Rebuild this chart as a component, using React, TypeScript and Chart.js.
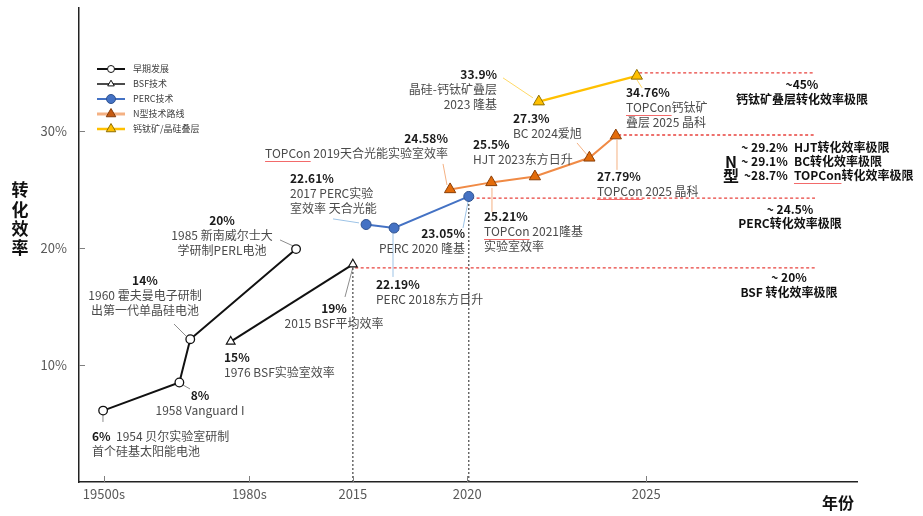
import { useEffect, useRef } from 'react';
import { Chart, registerables } from 'chart.js';

Chart.register(...registerables);

const FONT = '"Noto Sans CJK SC", "Noto Sans", sans-serif';

// X axis is a schematic (non-linear) timeline measured in position units 0–100
const xTickPositions = [3.2, 21.9, 35.2, 49.9, 72.9];
const xTickLabels = ['19500s', '1980s', '2015', '2020', '2025'];
const yTickValues = [10, 20, 30];
const yTickLabels = ['10%', '20%', '30%'];

const seriesNames = ['早期发展', 'BSF技术', 'PERC技术', 'N型技术路线', '钙钛矿/晶硅叠层'];

const earlyX = [3.1, 12.9, 14.3, 27.9];
const earlyY = [6.1, 8.5, 12.2, 19.9];
const bsfX = [19.5, 35.2];
const bsfY = [12.0, 18.6];
const percX = [36.9, 40.5, 50.1];
const percY = [22.0, 21.7, 24.4];
const ntypeX = [47.7, 53.0, 58.6, 65.6, 69.0];
const ntypeY = [25.0, 25.6, 26.1, 27.7, 29.6];
const tandemX = [59.1, 71.7];
const tandemY = [32.5, 34.7];

// efficiency-limit reference lines (red dashed)
const limitStartX = [72.0, 69.3, 50.4, 35.5];
const limitY = [34.95, 29.65, 24.25, 18.3];
const limitEndX = 94.6;
// vertical dotted guides at 2015 / 2020
const guideX = [35.2, 50.1];
const guideTopY = [18.6, 24.4];

type Align = 'left' | 'center' | 'right';
interface Note {
  value: string;
  text: string[];
  x: number;
  y: number;
  align: Align;
  inline?: boolean;
  leader?: [number, number, number, number];
  color?: string;
}

const GRAY_LEAD = '#8c8c8c';
const BLUE_LEAD = '#9DC3E6';
const ORANGE_LEAD = '#F4B183';
const YELLOW_LEAD = '#FFD966';

const notes: Note[] = [
  { value: '6%', text: ['1954 贝尔实验室研制', '首个硅基太阳能电池'], x: 1.67, y: 3.93, align: 'left', inline: true, leader: [3.08, 5.9, 3.08, 5.13], color: GRAY_LEAD },
  { value: '8%', text: ['1958 Vanguard I'], x: 15.55, y: 7.4, align: 'center', leader: [13.37, 8.29, 14.27, 7.95], color: GRAY_LEAD },
  { value: '14%', text: ['1960 霍夫曼电子研制', '出第一代单晶硅电池'], x: 8.48, y: 17.18, align: 'center', leader: [12.21, 13.5, 13.75, 12.48], color: GRAY_LEAD },
  { value: '20%', text: ['1985 新南威尔士大', '学研制PERL电池'], x: 18.38, y: 22.31, align: 'center', leader: [25.84, 20.68, 27.51, 20.17], color: GRAY_LEAD },
  { value: '15%', text: ['1976 BSF实验室效率'], x: 18.64, y: 10.68, align: 'left' },
  { value: '19%', text: ['2015 BSF平均效率'], x: 32.78, y: 14.79, align: 'center', leader: [34.19, 15.81, 35.22, 18.38], color: GRAY_LEAD },
  { value: '22.61%', text: ['2017 PERC实验', '室效率 天合光能'], x: 27.12, y: 25.98, align: 'left', leader: [32.65, 22.48, 35.99, 22.14], color: BLUE_LEAD },
  { value: '22.19%', text: ['PERC 2018东方日升'], x: 38.17, y: 16.84, align: 'left', leader: [40.36, 21.28, 40.36, 17.52], color: BLUE_LEAD },
  { value: '23.05%', text: ['PERC 2020 隆基'], x: 49.61, y: 21.28, align: 'right', leader: [49.36, 21.71, 50.0, 23.93], color: BLUE_LEAD },
  { value: '24.58%', text: ['TOPCon 2019天合光能实验室效率'], x: 47.43, y: 29.32, align: 'right', leader: [46.79, 27.18, 47.3, 25.38], color: ORANGE_LEAD },
  { value: '25.5%', text: ['HJT 2023东方日升'], x: 50.64, y: 28.8, align: 'left' },
  { value: '25.21%', text: ['TOPCon 2021隆基', '实验室效率'], x: 52.06, y: 22.65, align: 'left', leader: [53.08, 25.13, 53.08, 23.08], color: ORANGE_LEAD },
  { value: '27.3%', text: ['BC 2024爱旭'], x: 55.78, y: 31.03, align: 'left', leader: [64.01, 28.97, 65.3, 27.95], color: ORANGE_LEAD },
  { value: '27.79%', text: ['TOPCon 2025 晶科'], x: 66.58, y: 26.07, align: 'left', leader: [69.15, 29.23, 69.15, 26.67], color: ORANGE_LEAD },
  { value: '33.9%', text: ['晶硅-钙钛矿叠层', '2023 隆基'], x: 53.73, y: 34.79, align: 'right', leader: [54.5, 34.53, 58.35, 32.82], color: YELLOW_LEAD },
  { value: '34.76%', text: ['TOPCon钙钛矿', '叠层 2025 晶科'], x: 70.31, y: 33.25, align: 'left', leader: [71.72, 34.36, 72.37, 33.68], color: YELLOW_LEAD },
];

interface LimitNote { lines: string[]; x: number; y: number; align: Align; lh: number; size: number }
const limitNotes: LimitNote[] = [
  { lines: ['~45%', '钙钛矿叠层转化效率极限'], x: 92.93, y: 33.93, align: 'center', lh: 15, size: 12 },
  { lines: ['~ 29.2%', '~ 29.1%', '~28.7%'], x: 91.1, y: 28.55, align: 'right', lh: 14, size: 12 },
  { lines: ['HJT转化效率极限', 'BC转化效率极限', 'TOPCon转化效率极限'], x: 91.9, y: 28.55, align: 'left', lh: 14, size: 12 },
  { lines: ['N', '型'], x: 83.8, y: 27.35, align: 'center', lh: 14, size: 16 },
  { lines: ['~ 24.5%', 'PERC转化效率极限'], x: 91.39, y: 23.25, align: 'center', lh: 14, size: 12 },
  { lines: ['~ 20%', 'BSF 转化效率极限'], x: 91.26, y: 17.44, align: 'center', lh: 15, size: 12 },
];

const pts = (xs: number[], ys: number[]) => xs.map((x, i) => ({ x, y: ys[i] }));

const mainSeries: any[] = [
  { label: seriesNames[0], data: pts(earlyX, earlyY), borderColor: '#111', borderWidth: 2, pointStyle: 'circle', pointRadius: 4.3, pointBackgroundColor: '#fff', pointBorderColor: '#111', pointBorderWidth: 1.3 },
  { label: seriesNames[1], data: pts(bsfX, bsfY), borderColor: '#111', borderWidth: 2, pointStyle: 'triangle', pointRadius: 5, pointBackgroundColor: '#fff', pointBorderColor: '#111', pointBorderWidth: 1.2 },
  { label: seriesNames[2], data: pts(percX, percY), borderColor: '#4472C4', borderWidth: 2, pointStyle: 'circle', pointRadius: 5, pointBackgroundColor: '#4472C4', pointBorderColor: '#2F528F', pointBorderWidth: 1 },
  { label: seriesNames[3], data: pts(ntypeX, ntypeY), borderColor: '#F08A45', borderWidth: 2, pointStyle: 'triangle', pointRadius: 6.5, pointBackgroundColor: '#E46C0A', pointBorderColor: '#8A3F08', pointBorderWidth: 1 },
  { label: seriesNames[4], data: pts(tandemX, tandemY), borderColor: '#FFC000', borderWidth: 2.2, pointStyle: 'triangle', pointRadius: 6.5, pointBackgroundColor: '#FFC000', pointBorderColor: '#8F6F00', pointBorderWidth: 1 },
];

const legendStyles = [
  { line: '#111', width: 2, shape: 'circle', r: 3.5, fill: '#fff', stroke: '#111' },
  { line: '#111', width: 1.5, shape: 'triangle', r: 3.8, fill: '#fff', stroke: '#111' },
  { line: '#4472C4', width: 2, shape: 'circle', r: 4.5, fill: '#4472C4', stroke: '#2F528F' },
  { line: '#F4B183', width: 3, shape: 'triangle', r: 5.5, fill: '#C55A11', stroke: '#843C0C' },
  { line: '#FFC000', width: 2.5, shape: 'triangle', r: 5.5, fill: '#FFC000', stroke: '#8F6F00' },
];

const limitSets: any[] = limitY.map((y, i) => ({
  label: 'limit' + i,
  data: [{ x: limitStartX[i], y }, { x: limitEndX, y }],
  borderColor: '#E8413C',
  borderWidth: 1.3,
  borderDash: [3, 2.5],
  pointRadius: 0,
}));
const guideSets: any[] = guideX.map((x, i) => ({
  label: 'guide' + i,
  data: [{ x, y: 0 }, { x, y: guideTopY[i] }],
  borderColor: '#444',
  borderWidth: 1.2,
  borderDash: [2, 2],
  pointRadius: 0,
}));

function shapePath(ctx: CanvasRenderingContext2D, shape: string, x: number, y: number, r: number) {
  ctx.beginPath();
  if (shape === 'circle') {
    ctx.arc(x, y, r, 0, Math.PI * 2);
  } else {
    ctx.moveTo(x, y - r);
    ctx.lineTo(x + r * 0.866, y + r * 0.5);
    ctx.lineTo(x - r * 0.866, y + r * 0.5);
    ctx.closePath();
  }
}

interface Seg { t: string; bold: boolean; color: string }

function drawLines(ctx: CanvasRenderingContext2D, x: number, y: number, align: Align, lines: Seg[][], lh: number, size: number) {
  ctx.textBaseline = 'middle';
  ctx.textAlign = 'left';
  lines.forEach((segs, i) => {
    const ly = y + i * lh;
    let total = 0;
    const widths = segs.map((s) => {
      ctx.font = `${s.bold ? 'bold ' : ''}${size}px ${FONT}`;
      const w = ctx.measureText(s.t).width;
      total += w;
      return w;
    });
    let sx = align === 'left' ? x : align === 'center' ? x - total / 2 : x - total;
    segs.forEach((s, k) => {
      ctx.font = `${s.bold ? 'bold ' : ''}${size}px ${FONT}`;
      ctx.fillStyle = s.color;
      ctx.fillText(s.t, sx, ly);
      const idx = s.t.indexOf('TOPCon');
      if (idx >= 0) {
        const off = ctx.measureText(s.t.slice(0, idx)).width;
        const w = ctx.measureText('TOPCon').width;
        ctx.save();
        ctx.strokeStyle = 'rgba(240,80,80,0.85)';
        ctx.lineWidth = 1;
        ctx.beginPath();
        ctx.moveTo(sx + off, Math.round(ly + size * 0.62) + 0.5);
        ctx.lineTo(sx + off + w, Math.round(ly + size * 0.62) + 0.5);
        ctx.stroke();
        ctx.restore();
      }
      sx += widths[k];
    });
  });
}

const decor = {
  id: 'decor',
  beforeDatasetsDraw(chart: any) {
    const { ctx, scales } = chart;
    const X = (v: number) => scales.x.getPixelForValue(v);
    const Y = (v: number) => scales.y.getPixelForValue(v);
    ctx.save();
    ctx.lineWidth = 1;
    notes.forEach((n) => {
      if (!n.leader) return;
      ctx.strokeStyle = n.color || GRAY_LEAD;
      ctx.beginPath();
      ctx.moveTo(X(n.leader[0]), Y(n.leader[1]));
      ctx.lineTo(X(n.leader[2]), Y(n.leader[3]));
      ctx.stroke();
    });
    ctx.restore();
  },
  afterDraw(chart: any) {
    const { ctx, scales, chartArea } = chart;
    const X = (v: number) => scales.x.getPixelForValue(v);
    const Y = (v: number) => scales.y.getPixelForValue(v);
    ctx.save();
    // inner tick marks
    ctx.strokeStyle = '#7f7f7f';
    ctx.lineWidth = 1;
    yTickValues.forEach((v) => {
      const py = Math.round(Y(v)) + 0.5;
      ctx.beginPath();
      ctx.moveTo(chartArea.left, py);
      ctx.lineTo(chartArea.left + 6, py);
      ctx.stroke();
    });
    xTickPositions.forEach((v) => {
      const px = Math.round(X(v)) + 0.5;
      ctx.beginPath();
      ctx.moveTo(px, chartArea.bottom);
      ctx.lineTo(px, chartArea.bottom - 6);
      ctx.stroke();
    });

    // data annotations
    notes.forEach((n) => {
      const val: Seg = { t: n.value, bold: true, color: '#1a1a1a' };
      const txt = (t: string): Seg => ({ t, bold: false, color: '#4a4a4a' });
      let lines: Seg[][];
      if (n.inline) {
        lines = [[val, txt('  ' + n.text[0])], ...n.text.slice(1).map((t) => [txt(t)])];
      } else {
        lines = [[val], ...n.text.map((t) => [txt(t)])];
      }
      drawLines(ctx, X(n.x), Y(n.y), n.align, lines, 15, 12);
    });

    // efficiency limit texts
    limitNotes.forEach((n) => {
      const lines = n.lines.map((t) => [{ t, bold: true, color: '#111' }]);
      drawLines(ctx, X(n.x), Y(n.y), n.align, lines, n.lh, n.size);
    });

    // legend
    const lx = chartArea.left + 18;
    legendStyles.forEach((s, i) => {
      const ly = chartArea.top + 61 + i * 15;
      ctx.strokeStyle = s.line;
      ctx.lineWidth = s.width;
      ctx.beginPath();
      ctx.moveTo(lx, ly);
      ctx.lineTo(lx + 28, ly);
      ctx.stroke();
      shapePath(ctx, s.shape, lx + 14, ly, s.r);
      ctx.fillStyle = s.fill;
      ctx.fill();
      ctx.strokeStyle = s.stroke;
      ctx.lineWidth = 1;
      ctx.stroke();
      ctx.fillStyle = '#404040';
      ctx.font = `9px ${FONT}`;
      ctx.textAlign = 'left';
      ctx.textBaseline = 'middle';
      ctx.fillText(seriesNames[i], lx + 36, ly);
    });

    // axis titles
    ctx.fillStyle = '#111';
    ctx.font = `bold 17px ${FONT}`;
    ctx.textAlign = 'center';
    ctx.textBaseline = 'middle';
    ['转', '化', '效', '率'].forEach((c, i) => ctx.fillText(c, 20, chartArea.top + 182 + i * 19.3));
    ctx.font = `bold 16px ${FONT}`;
    ctx.fillText('年份', 838, chartArea.bottom + 21);
    ctx.restore();
  },
};

export default function App() {
  const ref = useRef<HTMLCanvasElement>(null);
  useEffect(() => {
    const chart = new Chart(ref.current as HTMLCanvasElement, {
      type: 'line',
      data: { datasets: [...mainSeries, ...limitSets, ...guideSets] },
      options: {
        responsive: false,
        animation: false,
        devicePixelRatio: 1,
        layout: { padding: { left: 0, right: 66, top: 8, bottom: 0 } },
        elements: { line: { tension: 0 } },
        plugins: { legend: { display: false }, tooltip: { enabled: false } },
        scales: {
          x: {
            type: 'linear',
            min: 0,
            max: 100,
            afterFit: (s: any) => { s.height = 34; s.paddingLeft = 0; s.paddingRight = 0; },
            afterBuildTicks: (s: any) => { s.ticks = xTickPositions.map((value) => ({ value })); },
            ticks: {
              callback: (_v: any, i: number) => xTickLabels[i],
              color: '#595959',
              font: { family: FONT, size: 13 },
              padding: 4,
              maxRotation: 0,
              autoSkip: false,
            },
            grid: { display: false, drawTicks: false },
            border: { color: '#222', width: 1.5 },
          },
          y: {
            type: 'linear',
            min: 0,
            max: 40.5,
            afterFit: (s: any) => { s.width = 79; s.paddingTop = 0; s.paddingBottom = 0; },
            afterBuildTicks: (s: any) => { s.ticks = yTickValues.map((value) => ({ value })); },
            ticks: {
              callback: (_v: any, i: number) => yTickLabels[i],
              color: '#595959',
              font: { family: FONT, size: 13 },
              padding: 12,
            },
            grid: { display: false, drawTicks: false },
            border: { color: '#222', width: 1.5 },
          },
        },
      } as any,
      plugins: [decor],
    });
    return () => chart.destroy();
  }, []);
  return (
    <div style={{ position: 'fixed', left: 0, top: 0, width: 923, height: 516, background: '#fff' }}>
      <canvas ref={ref} width={923} height={516} style={{ display: 'block' }} />
    </div>
  );
}
